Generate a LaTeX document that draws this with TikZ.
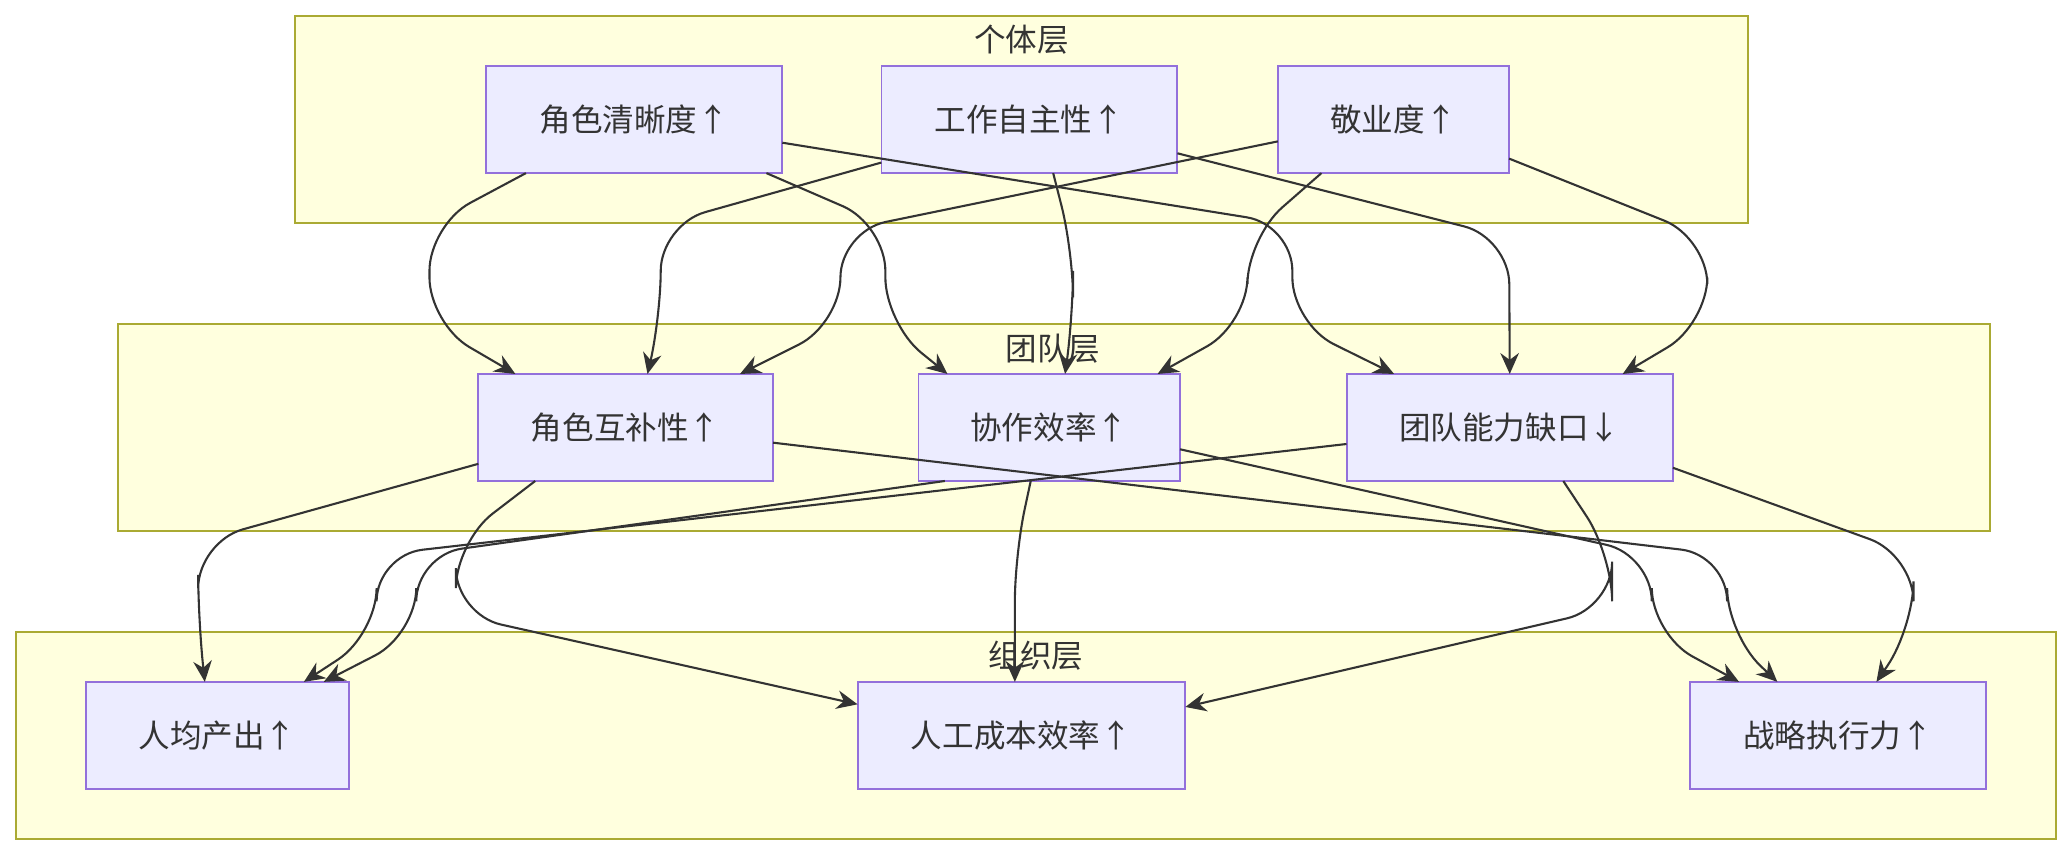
\documentclass[tikz,border=0pt]{standalone}
\usepackage{fontspec}
\setmainfont{Noto Sans CJK SC}
\usetikzlibrary{arrows.meta,calc,positioning}
\definecolor{boxfill}{HTML}{ECECFF}
\definecolor{boxline}{HTML}{9370DB}
\definecolor{layerfill}{HTML}{FFFFDE}
\definecolor{layerline}{HTML}{AAAA33}
\definecolor{flowline}{HTML}{333333}
\tikzset{
  layer/.style={draw=layerline,fill=layerfill,line width=0.8pt},
  layertitle/.style={font=\fontsize{13.6pt}{16pt}\selectfont,text=flowline},
  box/.style={draw=boxline,fill=boxfill,line width=0.8pt,minimum height=1.62cm,
    font=\fontsize{13.6pt}{16pt}\selectfont,text=flowline,inner sep=0pt},
  flow/.style={draw=flowline,line width=0.9pt,rounded corners=0.7cm,
    -{Stealth[length=9pt,width=8pt]}},
}
\begin{document}
\begin{tikzpicture}[x=0.02cm,y=-0.02cm]
  \useasboundingbox (0,0) rectangle (1568,648);
  % layers
  \draw[layer] (223,12) rectangle (1323,169);
  \node[layertitle] (t1) at (773,30) {个体层};
  \draw[layer] (89,245) rectangle (1506,402);
  \node[layertitle] (t2) at (797,264) {团队层};
  \draw[layer] (12,478) rectangle (1556,635);
  \node[layertitle] (t3) at (784,496) {组织层};

  % individual
  \node[box,minimum width=4.48cm] (cl) at (480,90.5) {角色清晰度↑};
  \node[box,minimum width=4.48cm] (zz) at (779,90.5) {工作自主性↑};
  \node[box,minimum width=3.5cm]  (jy) at (1054.5,90.5) {敬业度↑};
  % team
  \node[box,minimum width=4.46cm] (rc) at (473.5,323.5) {角色互补性↑};
  \node[box,minimum width=3.96cm] (xz) at (794,323.5) {协作效率↑};
  \node[box,minimum width=4.94cm] (qk) at (1142.5,323.5) {团队能力缺口↓};
  % organisation
  \node[box,minimum width=3.98cm] (rj) at (164.5,556.5) {人均产出↑};
  \node[box,minimum width=4.96cm] (cb) at (773,556.5) {人工成本效率↑};
  \node[box,minimum width=4.48cm] (zl) at (1391,556.5) {战略执行力↑};

  % individual -> team
  \begin{scope}[on background layer/.style={}]
  \draw[flow] ($(cl)+(-82,40.5)$) -- (325,170) -- (325,245) -- ($(rc)+(-83.5,-40.5)$);
  \draw[flow] ($(cl)+(100,40.5)$) -- (670,170) -- (670,245) -- ($(xz)+(-77,-40.5)$);
  \draw[flow] ($(cl)+(112,17.5)$) -- (978,170) -- (978,245) -- ($(qk)+(-87.5,-40.5)$);
  \draw[flow] ($(zz)+(-112,32.5)$) -- (500,170) -- (500,240) -- ($(rc)+(16.5,-40.5)$);
  \draw[flow] ($(zz)+(18,40.5)$) -- (812,190) -- (812,240) -- ($(xz)+(12,-40.5)$);
  \draw[flow] ($(zz)+(112,25.5)$) -- (1142,180) -- ($(qk)+(0,-40.5)$);
  \draw[flow] ($(jy)+(-87.5,16.5)$) -- (636,175) -- (636,245) -- ($(rc)+(86.5,-40.5)$);
  \draw[flow] ($(jy)+(-54.5,40.5)$) -- (944,180) -- (944,245) -- ($(xz)+(82,-40.5)$);
  \draw[flow] ($(jy)+(87.5,29.5)$) -- (1292,180) -- (1292,245) -- ($(qk)+(85.5,-40.5)$);
  % team -> organisation
  \draw[flow] ($(rc)+(-111.5,27.5)$) -- (150,410) -- (150,470) -- ($(rj)+(-9.5,-40.5)$);
  \draw[flow] ($(rc)+(-68.5,40.5)$) -- (345,410) -- (345,465) -- ($(cb)+(-124,-23.5)$);
  \draw[flow] ($(rc)+(111.5,11.5)$) -- (1307,420) -- (1307,480) -- ($(zl)+(-46,-40.5)$);
  \draw[flow] ($(xz)+(-79,40.5)$) -- (315,420) -- (315,480) -- ($(rj)+(80.5,-40.5)$);
  \draw[flow] ($(xz)+(-14,40.5)$) -- (768,420) -- ($(cb)+(-5,-40.5)$);
  \draw[flow] ($(xz)+(99,16.5)$) -- (1250,420) -- (1250,480) -- ($(zl)+(-75,-40.5)$);
  \draw[flow] ($(qk)+(-123.5,12.5)$) -- (285,420) -- (285,480) -- ($(rj)+(65.5,-40.5)$);
  \draw[flow] ($(qk)+(40.5,40.5)$) -- (1220,420) -- (1220,460) -- ($(cb)+(124,-21.5)$);
  \draw[flow] ($(qk)+(123.5,30.5)$) -- (1448,420) -- (1448,475) -- ($(zl)+(29,-40.5)$);
  \end{scope}
\end{tikzpicture}
\end{document}
